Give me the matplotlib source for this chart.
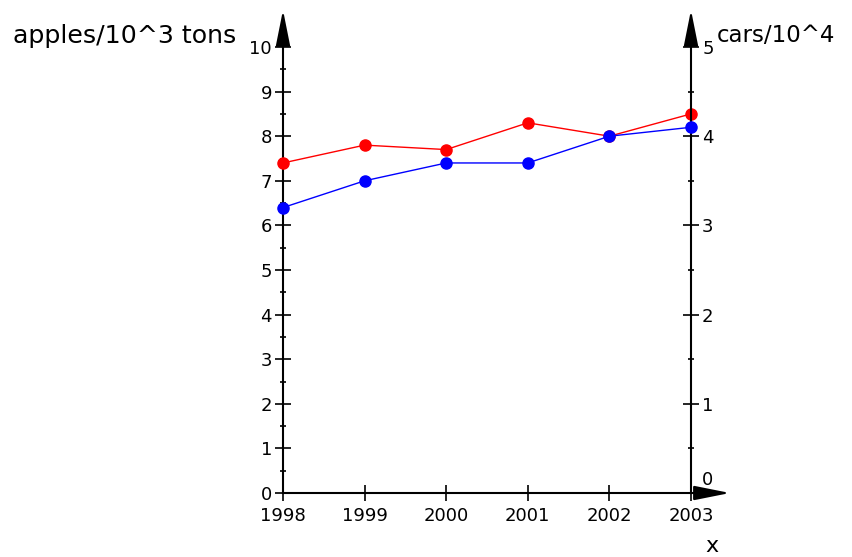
import matplotlib
matplotlib.use("Agg")
import matplotlib.pyplot as plt
import matplotlib.transforms as mtransforms

years = [1998, 1999, 2000, 2001, 2002, 2003]
apples = [7.4, 7.8, 7.7, 8.3, 8.0, 8.5]
cars = [3.2, 3.5, 3.7, 3.7, 4.0, 4.1]
left_ticks = list(range(0, 11))
right_ticks = list(range(0, 6))

W, H = 852, 557
fig = plt.figure(figsize=(W / 100, H / 100), dpi=100)
x0, x1, y0, y1 = 283, 691, 493, 47
ax = fig.add_axes([x0 / W, 1 - y0 / H, (x1 - x0) / W, (y0 - y1) / H])
ax2 = ax.twinx()

lw_axis = 1.5
for a in (ax, ax2):
    for s in a.spines.values():
        s.set_visible(False)
    a.patch.set_visible(False)
ax.spines['left'].set_visible(True)
ax.spines['bottom'].set_visible(True)
ax2.spines['right'].set_visible(True)
for s in (ax.spines['left'], ax.spines['bottom'], ax2.spines['right']):
    s.set_linewidth(lw_axis)
    s.set_color('black')

ax.plot(years, apples, color='#ff0000', lw=1.0, marker='o', ms=8, clip_on=False, zorder=5)
ax2.plot(years, cars, color='#0000ff', lw=1.0, marker='o', ms=8, clip_on=False, zorder=5)

ax.set_xlim(1998, 2003)
ax.set_ylim(0, 10)
ax2.set_ylim(0, 5)

fs = 13
ax.set_xticks(years)
ax.set_xticklabels([str(y) for y in years], fontsize=fs)
ax.set_yticks(left_ticks)
ax.set_yticklabels([str(t) for t in left_ticks], fontsize=fs)
ax.set_yticks([t + 0.5 for t in left_ticks[:-1]], minor=True)
ax2.set_yticks(right_ticks)
ax2.set_yticklabels([str(t) for t in right_ticks], fontsize=fs)
ax2.set_yticks([t + 0.5 for t in right_ticks[:-1]], minor=True)

ax.tick_params(axis='x', which='major', direction='inout', length=12, width=1.2, pad=4)
ax.tick_params(axis='y', which='major', direction='inout', length=12, width=1.2, pad=2)
ax.tick_params(axis='y', which='minor', direction='inout', length=5, width=1.2)
ax.tick_params(axis='x', which='minor', length=0)
ax2.tick_params(axis='y', which='major', direction='inout', length=12, width=1.2, pad=2)
ax2.tick_params(axis='y', which='minor', direction='inout', length=5, width=1.2)

# shift the right-axis "0" label up above the x axis
off = mtransforms.ScaledTranslation(0, 15 / 100, fig.dpi_scale_trans)
lbl0 = ax2.get_yticklabels()[0]
lbl0.set_transform(lbl0.get_transform() + off)

# arrows
ap = dict(arrowstyle='-|>,head_length=1.1,head_width=0.22', color='black', lw=lw_axis,
          shrinkA=0, shrinkB=0, mutation_scale=20)
ax.annotate('', xy=(0, (y0 - 10) / (y0 - y1)), xytext=(0, 1), xycoords='axes fraction',
            textcoords='axes fraction', arrowprops=ap, annotation_clip=False)
ax.annotate('', xy=(1, (y0 - 10) / (y0 - y1)), xytext=(1, 1), xycoords='axes fraction',
            textcoords='axes fraction', arrowprops=ap, annotation_clip=False)
ax.annotate('', xy=((730 - x0) / (x1 - x0), 0), xytext=(1, 0), xycoords='axes fraction',
            textcoords='axes fraction', arrowprops=ap, annotation_clip=False)

fig.text(236 / W, 1 - 36 / H, 'apples/10^3 tons', ha='right', va='center', fontsize=18.2)
fig.text(717 / W, 1 - 36 / H, 'cars/10^4', ha='left', va='center', fontsize=16.5)
fig.text(712 / W, 1 - 546 / H, 'x', ha='center', va='center', fontsize=16)

fig.savefig('out.png', dpi=100)
